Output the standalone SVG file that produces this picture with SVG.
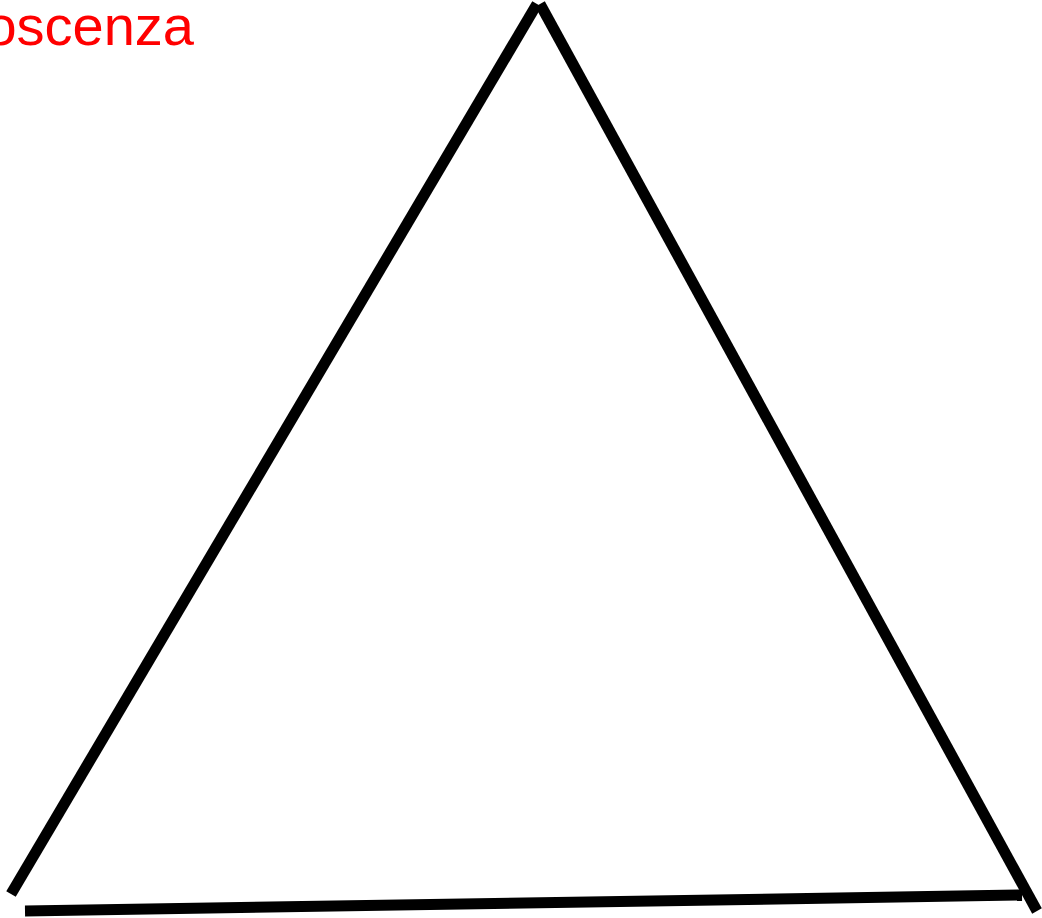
<svg xmlns="http://www.w3.org/2000/svg" width="1042" height="918" viewBox="0 0 1042 918">
<style>
.edge{stroke:#000;stroke-width:11;fill:none;stroke-linecap:butt}
.lbl{font-family:"Liberation Sans",Arial,sans-serif;font-size:56px;fill:#ff0000}
</style>
<rect width="1042" height="918" fill="#fff"/>
<g id="label"><text class="lbl" x="194" y="45" text-anchor="end">Conoscenza</text></g>
<g id="connectors">
<line class="edge" x1="11" y1="894" x2="537" y2="4"/>
<line class="edge" x1="540" y1="4" x2="1037" y2="911"/>
<line class="edge" x1="25" y1="911" x2="1022" y2="895"/>
</g>
</svg>
